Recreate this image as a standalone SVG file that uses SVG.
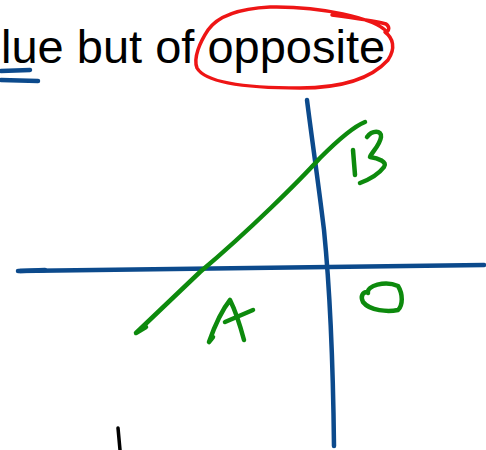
<svg xmlns="http://www.w3.org/2000/svg" width="486" height="450" viewBox="0 0 486 450">
<style>
.ink{fill:none;stroke-linecap:round;stroke-linejoin:round}
.blue{stroke:#0c4a8c;stroke-width:4.5}
.green{stroke:#0d8a0d;stroke-width:4.5}
.red{stroke:#ee1515;stroke-width:3.5}
.txt{font-family:"Liberation Sans",Arial,sans-serif;font-size:47px;fill:#000}
</style>
<rect width="486" height="450" fill="#fff"/>
<text class="txt" x="1" y="63">lue but of opposite</text>
<g id="underline">
<path class="ink blue" d="M1 71 L30 70"/>
<path class="ink blue" d="M1 80 L38 81"/>
</g>
<g id="circle">
<path class="ink red" d="M332 15 C355 18 375 21 386 24 C390 27 389 30 387 32 C375 18 320 6 270 7 C230 9 215 20 208 30 C200 42 193 58 197 68 C205 82 240 88 300 88 C340 88 370 80 388 60 C396 48 393 38 385 32"/>
</g>
<g id="axes">
<path class="ink blue" d="M18 271 C120 269 250 268 484 265"/>
<path class="ink blue" d="M20 271 L45 270" stroke-width="6" style="stroke:#0c4a8c;fill:none;stroke-linecap:round"/>
<path class="ink blue" d="M307 100 C312 140 318 180 324 230 C330 290 333 360 334 446"/>
</g>
<g id="line">
<path class="ink green" d="M146 327 L136 333 L200 272 C250 230 300 180 320 158 C340 138 355 126 365 122"/>
</g>
<g id="B">
<path class="ink green" d="M353 150 L355 175"/>
<path class="ink green" d="M367 137 C372 130 382 130 381 137 C380 145 372 152 370 157 C378 158 388 162 384 167 C378 175 368 180 360 183"/>
</g>
<g id="A">
<path class="ink green" d="M213 337 L209 342 C215 325 222 310 230 300 C236 312 240 325 244 340"/>
<path class="ink green" d="M225 322 L253 310"/>
</g>
<g id="O">
<path class="ink green" d="M368 293 C366 286 385 280 398 286 C403 294 403 305 398 310 C388 312 370 311 363 302 C360 296 363 292 367 292"/>
</g>
<g id="mark">
<path class="ink" stroke="#000" stroke-width="3.5" d="M118 428 L120 450"/>
</g>
</svg>
